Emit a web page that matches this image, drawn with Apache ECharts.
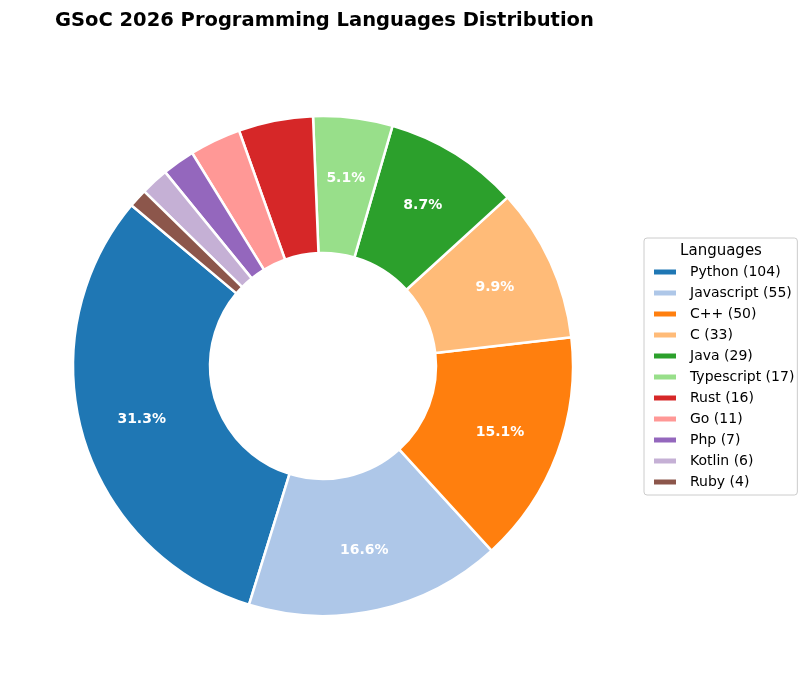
<!DOCTYPE html>
<html>
<head>
<meta charset="utf-8">
<script src="https://cdn.jsdelivr.net/npm/echarts@6/dist/echarts.min.js"></script>
<style>
  html, body { margin: 0; padding: 0; background: #fff; }
  #chart { width: 808px; height: 690px; }
</style>
</head>
<body>
<div id="chart"></div>
<script>
// Data
const languages = ['Python', 'Javascript', 'C++', 'C', 'Java', 'Typescript', 'Rust', 'Go', 'Php', 'Kotlin', 'Ruby'];
const counts = [104, 55, 50, 33, 29, 17, 16, 11, 7, 6, 4];
const colors = ['#1f77b4', '#aec7e8', '#ff7f0e', '#ffbb78', '#2ca02c', '#98df8a', '#d62728', '#ff9896', '#9467bd', '#c5b0d5', '#8c564b'];

const total = counts.reduce((a, b) => a + b, 0);
const font = 'DejaVu Sans';

let myChart = echarts.init(document.getElementById('chart'), null, { renderer: 'canvas' });

const seriesData = languages.map((name, i) => {
    return {
        name: `${name} (${counts[i]})`,
        value: counts[i],
        itemStyle: { color: colors[i] }
    };
});

// transparent copy, only used to place the percentage labels a bit further out
const labelData = seriesData.map(d => {
    return { name: d.name, value: d.value, itemStyle: { color: 'rgba(0,0,0,0)' } };
});

const option = {
    backgroundColor: '#ffffff',
    animation: false,
    title: {
        text: 'GSoC 2026 Programming Languages Distribution',
        left: 50,
        top: 6,
        textStyle: { fontFamily: font, fontSize: 19.5, fontWeight: 'bold', color: '#000' }
    },
    graphic: [{
        type: 'text',
        x: 721,
        y: 251,
        style: { text: 'Languages', fontFamily: font, fontSize: 15, fill: '#000', align: 'center', verticalAlign: 'middle' }
    }],
    legend: {
        orient: 'vertical',
        left: 644,
        top: 238,
        padding: [27, 3, 6, 8],
        itemWidth: 24,
        itemHeight: 7,
        itemGap: 7,
        borderColor: '#cccccc',
        borderWidth: 1,
        borderRadius: 3,
        icon: 'rect',
        data: seriesData.map(d => d.name),
        formatter: n => `{t|${n}}`,
        textStyle: {
            fontFamily: font,
            fontSize: 14,
            color: '#000',
            rich: { t: { fontFamily: font, fontSize: 14, lineHeight: 15, padding: [0, 0, 0, 8], color: '#000' } }
        }
    },
    series: [{
        type: 'pie',
        center: [323, 366],
        radius: [113, 250],
        startAngle: 140,
        clockwise: false,
        avoidLabelOverlap: false,
        itemStyle: { borderColor: '#fff', borderWidth: 2.5 },
        label: { show: false },
        labelLine: { show: false },
        emphasis: { disabled: true },
        data: seriesData
    }, {
        type: 'pie',
        center: [323, 366],
        radius: [122, 250],
        startAngle: 140,
        clockwise: false,
        silent: true,
        avoidLabelOverlap: false,
        itemStyle: { borderWidth: 0 },
        label: {
            show: true,
            position: 'inside',
            color: '#fff',
            fontFamily: font,
            fontSize: 14,
            fontWeight: 'bold',
            formatter: p => {
                const pct = p.value / total * 100;
                return pct >= 5 ? pct.toFixed(1) + '%' : '';
            }
        },
        labelLine: { show: false },
        emphasis: { disabled: true },
        data: labelData
    }]
};

myChart.setOption(option, true);
</script>
</body>
</html>
